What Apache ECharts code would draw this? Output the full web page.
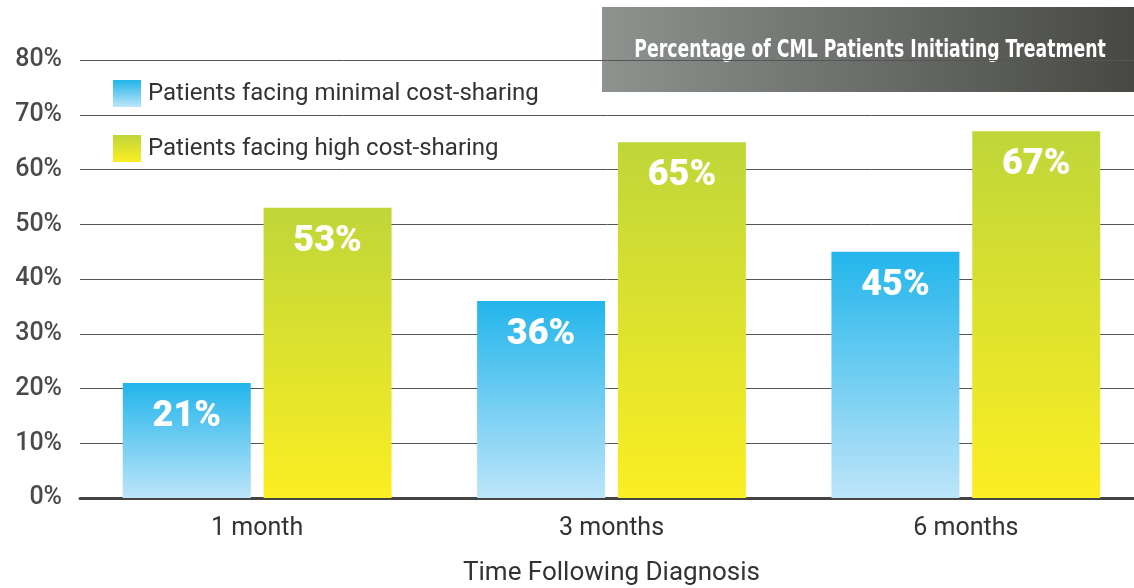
<!DOCTYPE html>
<html>
<head>
<meta charset="utf-8">
<script src="https://cdn.jsdelivr.net/npm/echarts@6/dist/echarts.min.js"></script>
<style>
  html, body { margin: 0; padding: 0; background: #fff; }
  #chart { width: 1134px; height: 588px; }
</style>
</head>
<body>
<div id="chart"></div>
<script>
// data
const categories = ['1 month', '3 months', '6 months'];
const minimalCost = [21, 36, 45];
const highCost = [53, 65, 67];
const yTicks = [0, 10, 20, 30, 40, 50, 60, 70, 80];

const blueFill = new echarts.graphic.LinearGradient(0, 0, 0, 1, [
  { offset: 0, color: '#22b5eb' },
  { offset: 1, color: '#bde5f9' }
]);
const greenFill = new echarts.graphic.LinearGradient(0, 0, 0, 1, [
  { offset: 0, color: '#bfd639' },
  { offset: 1, color: '#fbee23' }
]);

const barLabel = {
  show: true,
  position: 'insideTop',
  distance: 16,
  formatter: '{c}%',
  color: '#fff',
  fontFamily: 'Roboto',
  fontWeight: 900,
  fontSize: 36
};

const chart = echarts.init(document.getElementById('chart'), null, { renderer: 'canvas' });

const option = {
  animation: false,
  grid: { left: 80, right: -9, top: 60, bottom: 90, outerBoundsMode: 'none', containLabel: false },
  legend: {
    orient: 'vertical',
    left: 108,
    top: 75,
    icon: 'rect',
    itemWidth: 28,
    itemHeight: 27,
    itemGap: 28,
    textStyle: { fontFamily: 'Roboto', fontSize: 24, color: '#333', padding: [0, 0, 0, 2] },
    data: ['Patients facing minimal cost-sharing', 'Patients facing high cost-sharing']
  },
  graphic: [{
    type: 'group',
    right: 0,
    top: 7,
    children: [{
      type: 'rect',
      shape: { x: 0, y: 0, width: 532, height: 85 },
      style: {
        fill: new echarts.graphic.LinearGradient(0, 0, 1, 0, [
          { offset: 0, color: '#8e9390' },
          { offset: 1, color: '#474844' }
        ])
      }
    }, {
      type: 'text',
      x: 268,
      y: 44,
      scaleX: 0.8,
      style: {
        text: 'Percentage of CML Patients Initiating Treatment',
        fill: '#fff',
        font: 'bold 24px "DejaVu Sans Condensed"',
        align: 'center',
        verticalAlign: 'middle'
      }
    }]
  }],
  xAxis: {
    type: 'category',
    data: categories,
    name: 'Time Following Diagnosis',
    nameLocation: 'middle',
    nameGap: 62,
    nameTextStyle: { fontFamily: 'Roboto', fontSize: 26, color: '#333' },
    axisTick: { show: false },
    axisLine: { lineStyle: { color: '#444', width: 3 } },
    axisLabel: { fontFamily: 'Roboto', fontSize: 25, color: '#333', margin: 18 }
  },
  yAxis: {
    type: 'value',
    min: yTicks[0],
    max: yTicks[yTicks.length - 1],
    interval: 10,
    axisLine: { show: false },
    axisTick: { show: false },
    splitLine: { lineStyle: { color: '#555', width: 1 } },
    axisLabel: {
      formatter: '{value}%',
      fontFamily: 'Roboto',
      fontWeight: 500,
      fontSize: 25,
      color: '#4a4a4a',
      margin: 18
    }
  },
  series: [{
    name: 'Patients facing minimal cost-sharing',
    type: 'bar',
    data: minimalCost,
    barWidth: 128,
    barGap: '10%',
    itemStyle: { color: blueFill },
    label: barLabel
  }, {
    name: 'Patients facing high cost-sharing',
    type: 'bar',
    data: highCost,
    barWidth: 128,
    barGap: '10%',
    itemStyle: { color: greenFill },
    label: barLabel
  }]
};

chart.setOption(option);
</script>
</body>
</html>
